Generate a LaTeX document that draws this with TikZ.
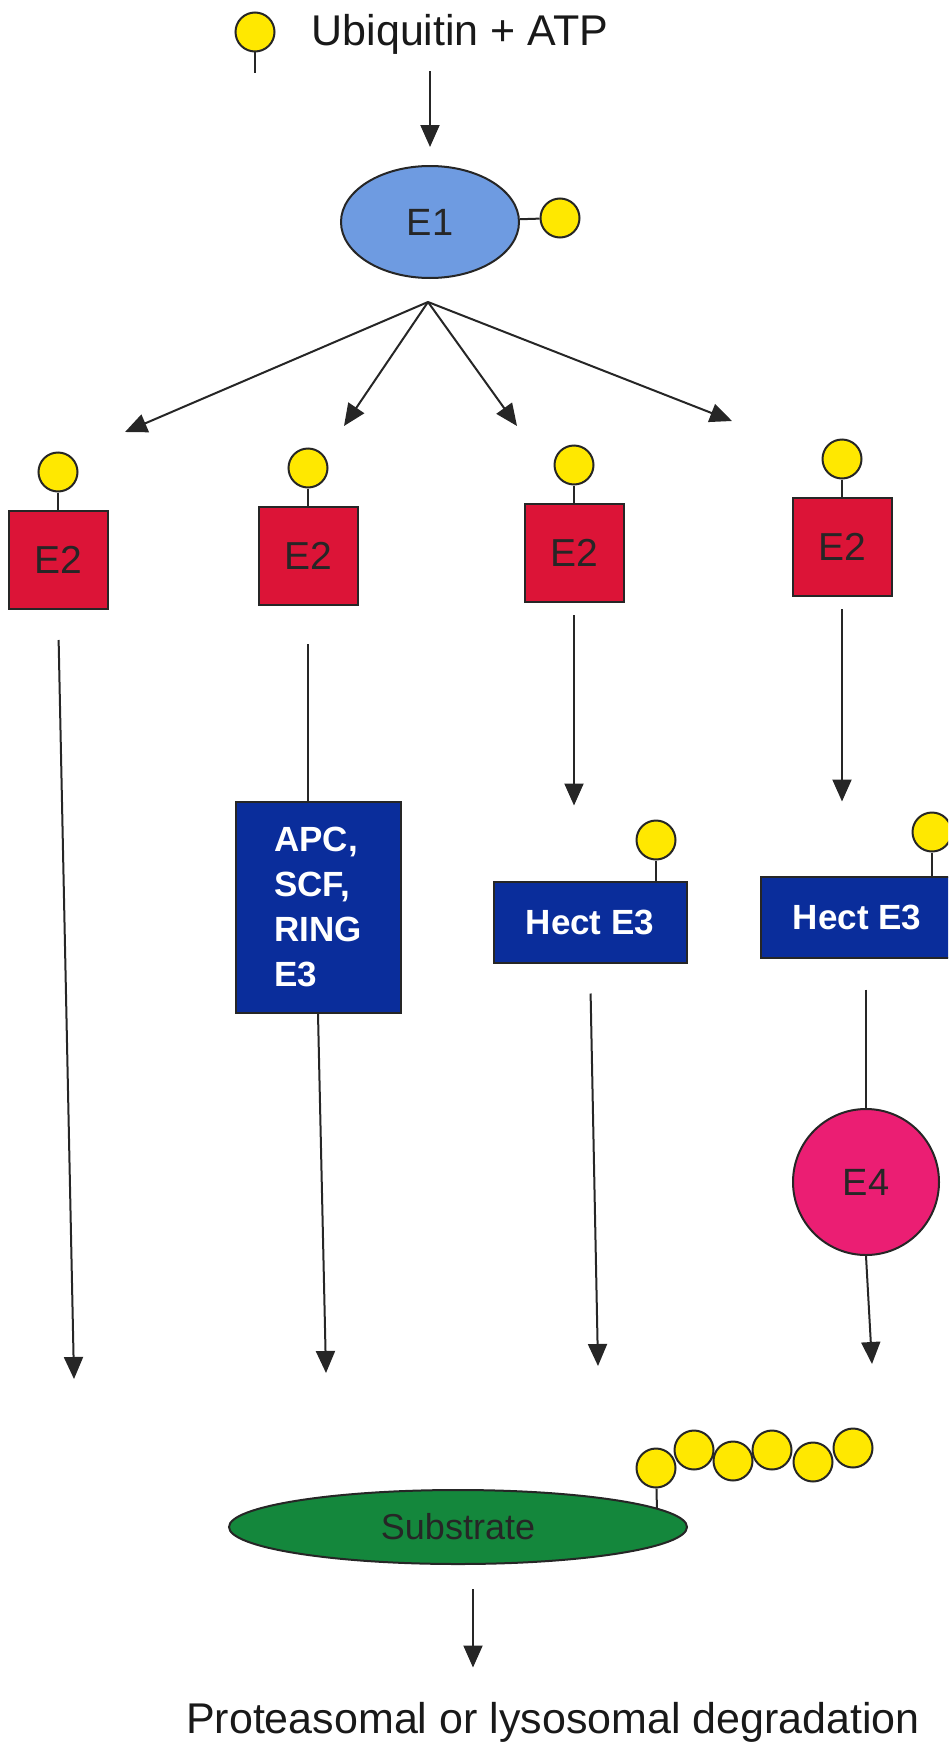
\documentclass[tikz,border=0pt]{standalone}
\usepackage{fontspec}
\setmainfont{Liberation Sans}
\usetikzlibrary{shapes.geometric,arrows.meta}

\definecolor{ubyellow}{RGB}{255,232,0}
\definecolor{e1blue}{RGB}{110,155,225}
\definecolor{e2red}{RGB}{220,20,55}
\definecolor{e3navy}{RGB}{10,45,155}
\definecolor{e4pink}{RGB}{235,30,115}
\definecolor{subgreen}{RGB}{20,135,60}
\newcommand{\fsize}[1]{\fontsize{#1}{#1}\selectfont}

\begin{document}
\begin{tikzpicture}[x=1pt,y=-1pt,line width=2pt,draw=black!85,
  ubq/.style={circle,draw=black!85,fill=ubyellow,minimum size=39pt,inner sep=0pt},
  arr/.style={-{Triangle[length=22pt,width=19pt]}},
  e2box/.style={rectangle,draw=black!85,fill=e2red,minimum width=99pt,minimum height=98pt,
    inner sep=0pt,font=\fsize{39},text=black!85},
  e3box/.style={rectangle,draw=black!85,fill=e3navy,inner sep=0pt,text=white,
    font=\fontsize{35}{45}\selectfont\bfseries},
  every node/.append style={text=black!90}]

\clip (0,0) rectangle (948,1753);

% ubiquitin + ATP
\node [ubq] (ub) at (255,32) {};
\coordinate (ubend) at (255,73);
\draw (ub) -- (ubend);
\node [anchor=base,font=\fsize{43}] (ubtxt) at (460,46) {Ubiquitin + ATP};

% E1
\node [ellipse,draw=black!85,fill=e1blue,minimum width=178pt,minimum height=112pt,
  font=\fsize{38},text=black!85] (e1) at (430,222) {E1};
\node [ubq] (e1u) at (560,218) {};
\draw (e1) -- (e1u);
\draw [arr,shorten <=12pt,shorten >=18pt] (e1.north |- ubtxt.south) -- (e1.north);

\coordinate (fan) at (428,302);
\foreach \n/\x/\y in {1/125/432,2/344/426,3/517/426,4/732/421}
{
  \coordinate (t\n) at (\x,\y);
  \draw [arr] (fan) -- (t\n);
}

% E2
\foreach \n/\x/\y in {a/58/560,b/308/556,c/574/553,d/842/547}
{
  \node [e2box] (e2\n) at (\x,\y) {E2};
  \node [ubq] (e2\n u) at (\x,\y-88) {};
  \draw (e2\n u) -- (e2\n);
}

\coordinate (c1) at (74,1379);
\coordinate (c2) at (326,1373);
\coordinate (c3) at (598,1366);
\coordinate (c4) at (872,1364);

% column 1
\draw [arr,shorten <=30pt] (e2a.south) -- (c1);

% column 2
\node [e3box,align=left,minimum width=165pt,minimum height=211pt] (apc) at (318,907)
  {APC,\\SCF,\\RING\\E3};
\draw [shorten <=38pt] (e2b.south) -- (apc.north -| e2b.south);
\draw [arr] (apc.south) -- (c2);

% column 3
\node [e3box,minimum width=193pt,minimum height=81pt] (hect1) at (590,922) {Hect E3};
\node [ubq] (h1u) at (656,840) {};
\draw (h1u) -- (h1u |- hect1.north);
\draw [arr,shorten <=12pt,shorten >=75pt] (e2c.south) -- (e2c.south |- hect1.north);
\draw [arr,shorten <=30pt] (hect1.south) -- (c3);

% column 4
\node [e3box,minimum width=192pt,minimum height=81pt] (hect2) at (857,917) {Hect E3};
\node [ubq] (h2u) at (932,832) {};
\draw (h2u) -- (h2u |- hect2.north);
\draw [arr,shorten <=12pt,shorten >=74pt] (e2d.south) -- (e2d.south |- hect2.north);
\node [circle,draw=black!85,fill=e4pink,minimum size=146pt,inner sep=0pt,
  font=\fsize{38},text=black!85] (e4) at (866,1182) {E4};
\draw [shorten <=31pt] (e4.north |- hect2.south) -- (e4.north);
\draw [arr] (e4.south) -- (c4);

% substrate + chain
\coordinate (subtop) at (657,1511);
\foreach \i/\x/\y in {1/656/1468,2/694/1450,3/733/1461,4/772/1450,5/813/1462,6/853/1448}
  \node [ubq] (chain\i) at (\x,\y) {};
\draw (chain1) -- (subtop);
\node [ellipse,draw=black!85,fill=subgreen,minimum width=458pt,minimum height=74pt,
  font=\fsize{36},text=black!85] (sub) at (458,1527) {Substrate};

\node [anchor=base,font=\fsize{43}] (deg) at (553,1733) {Proteasomal or lysosomal degradation};
\draw [arr,shorten <=24pt,shorten >=30pt] ([xshift=15pt]sub.south) -- ([xshift=15pt]sub.south |- deg.north);

\end{tikzpicture}
\end{document}
